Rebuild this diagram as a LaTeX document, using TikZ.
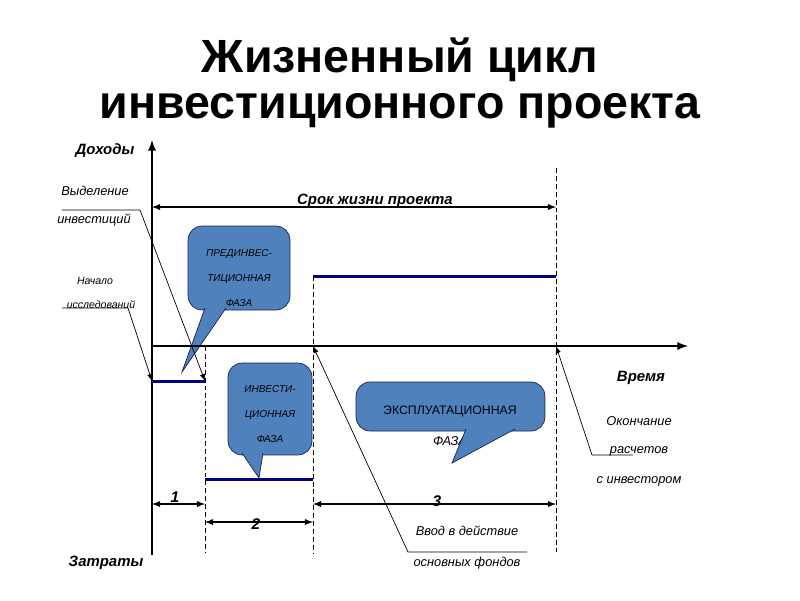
\documentclass[tikz,border=0pt]{standalone}
\usepackage{fontspec}
\setmainfont{Liberation Sans}
\usetikzlibrary{arrows,calc,positioning}
\definecolor{phasefill}{RGB}{79,129,189}
\definecolor{phaseline}{RGB}{25,35,70}
\definecolor{levelblue}{RGB}{0,0,128}

\begin{document}
\begin{tikzpicture}[x=0.02cm,y=-0.02cm,align=center,inner sep=0pt]
\tikzstyle{axis}=[line width=1.1pt]
\tikzstyle{level}=[draw=levelblue,line width=1.7pt]
\tikzstyle{guide}=[line width=0.5pt,dash pattern=on 2.8pt off 1.7pt]
\tikzstyle{span}=[latex-latex,line width=0.6pt]
\tikzstyle{leader}=[-latex,line width=0.4pt]
\tikzstyle{phase}=[draw=phaseline,fill=phasefill,line width=0.4pt,rounded corners=8pt]
\tikzstyle{phasetxt}=[font=\fontsize{5.7}{14}\selectfont\itshape]
\tikzstyle{lbl}=[font=\fontsize{7.3}{9}\selectfont\itshape]
\tikzstyle{small}=[font=\fontsize{6}{8}\selectfont\itshape]
\tikzstyle{hdr}=[font=\fontsize{8.5}{10}\selectfont\bfseries\itshape]
\tikzstyle{num}=[font=\fontsize{8.8}{10}\selectfont\bfseries\itshape]

\useasboundingbox (0,0) rectangle (800,600);

\node[font=\fontsize{26.5}{26.7}\selectfont\bfseries] (title) at (400,83)
  {Жизненный цикл\\инвестиционного проекта};

% phases
\node[phase,minimum width=58pt,minimum height=47.8pt] (pre) at (239,268) {};
\node[phasetxt] (pretxt) at (239,278) {ПРЕДИНВЕС-\\ТИЦИОННАЯ\\ФАЗА};
\coordinate (preA) at (205,308);
\coordinate (preB) at (226,308);
\coordinate (preTip) at (182,372);
\fill[phasefill] (preA) -- (preTip) -- (preB) -- cycle;
\draw[phaseline,line width=0.4pt] (preA) -- (preTip) -- (preB);

\node[phase,minimum width=47.8pt,minimum height=52.3pt] (inv) at (270,409) {};
\node[phasetxt] (invtxt) at (270,414) {ИНВЕСТИ-\\ЦИОННАЯ\\ФАЗА};
\coordinate (invA) at (242,453);
\coordinate (invB) at (263,453);
\coordinate (invTip) at (259,478);
\fill[phasefill] (invA) -- (invTip) -- (invB) -- cycle;
\draw[phaseline,line width=0.4pt] (invA) -- (invTip) -- (invB);

\node[lbl] (faza) at (450,441) {ФАЗА};
\node[phase,minimum width=107.5pt,minimum height=27.9pt] (expl) at (450.5,406.5) {};
\node[font=\fontsize{7}{8}\selectfont] (expltxt) at (450,411) {ЭКСПЛУАТАЦИОННАЯ};
\coordinate (explA) at (466,429);
\coordinate (explB) at (515,429);
\coordinate (explTip) at (452,463);
\fill[phasefill] (explA) -- (explTip) -- (explB) -- cycle;
\draw[phaseline,line width=0.4pt] (explA) -- (explTip) -- (explB);

% axes
\coordinate (O) at (152,346);
\coordinate (ytop) at (152,140);
\coordinate (ybot) at (152,555);
\coordinate (xend) at (688,346);
\coordinate (t1) at (205,346);
\coordinate (t2) at (313,346);
\coordinate (t3) at (556,346);
\draw[axis,-latex] (ybot) -- (ytop);
\draw[axis,-latex] (O) -- (xend);

% levels
\coordinate (l1a) at (152,381);
\coordinate (l1b) at (205,381);
\coordinate (l2a) at (205,479);
\coordinate (l2b) at (313,479);
\coordinate (l3a) at (313,276);
\coordinate (l3b) at (556,276);
\draw[level] (l1a) -- (l1b);
\draw[level] (l2a) -- (l2b);
\draw[level] (l3a) -- (l3b);

% guides
\coordinate (g1) at (205,553);
\coordinate (g2) at (313,553);
\coordinate (g3top) at (556,168);
\coordinate (g3) at (556,553);
\draw[guide] (t1) -- (g1);
\draw[guide] (l3a) -- (g2);
\draw[guide] (g3top) -- (g3);

% spans
\coordinate (life0) at (152,207);
\coordinate (life1) at (556,207);
\draw[span] (life0) -- (life1);
\node[hdr] (life) at (375,201) {Срок жизни проекта};

\coordinate (s1a) at (152,504);
\coordinate (s1b) at (205,504);
\coordinate (s2a) at (205,522);
\coordinate (s2b) at (313,522);
\coordinate (s3a) at (313,504);
\coordinate (s3b) at (556,504);
\draw[span] (s1a) -- (s1b);
\draw[span] (s2a) -- (s2b);
\draw[span] (s3a) -- (s3b);
\node[num] (n1) at (175,497) {1};
\node[num] (n2) at (256,524) {2};
\node[num] (n3) at (437,501) {3};

% labels
\node[hdr] (dohod) at (105,151) {Доходы};
\node[hdr] (zatr) at (106,563) {Затраты};
\node[hdr] (vremya) at (641,378) {Время};
\node[lbl] (vydel) at (95,191) {Выделение};
\node[lbl] (invest) at (94,220) {инвестиций};
\node[small] (nach) at (95,281) {Начало};
\node[small] (issl) at (101,305) {исследований};
\node[lbl] (okon) at (639,421) {Окончание};
\node[lbl] (rasch) at (639,451) {расчетов};
\node[lbl] (sinv) at (639,481) {с инвестором};
\node[lbl] (vvod) at (467,531) {Ввод в действие};
\node[lbl] (osnov) at (467,563) {основных фондов};

% leaders
\coordinate (v0) at (62,210);
\coordinate (v1) at (140,210);
\coordinate (i0) at (62,308);
\coordinate (i1) at (128,308);
\coordinate (r0) at (633,455);
\coordinate (r1) at (592,455);
\coordinate (f0) at (527,552);
\coordinate (f1) at (408,552);
\draw[leader] (v0) -- (v1) -- (l1b);
\draw[leader] (i0) -- (i1) -- (l1a);
\draw[leader] (r0) -- (r1) -- (t3);
\draw[leader] (f0) -- (f1) -- (t2);
\end{tikzpicture}
\end{document}
